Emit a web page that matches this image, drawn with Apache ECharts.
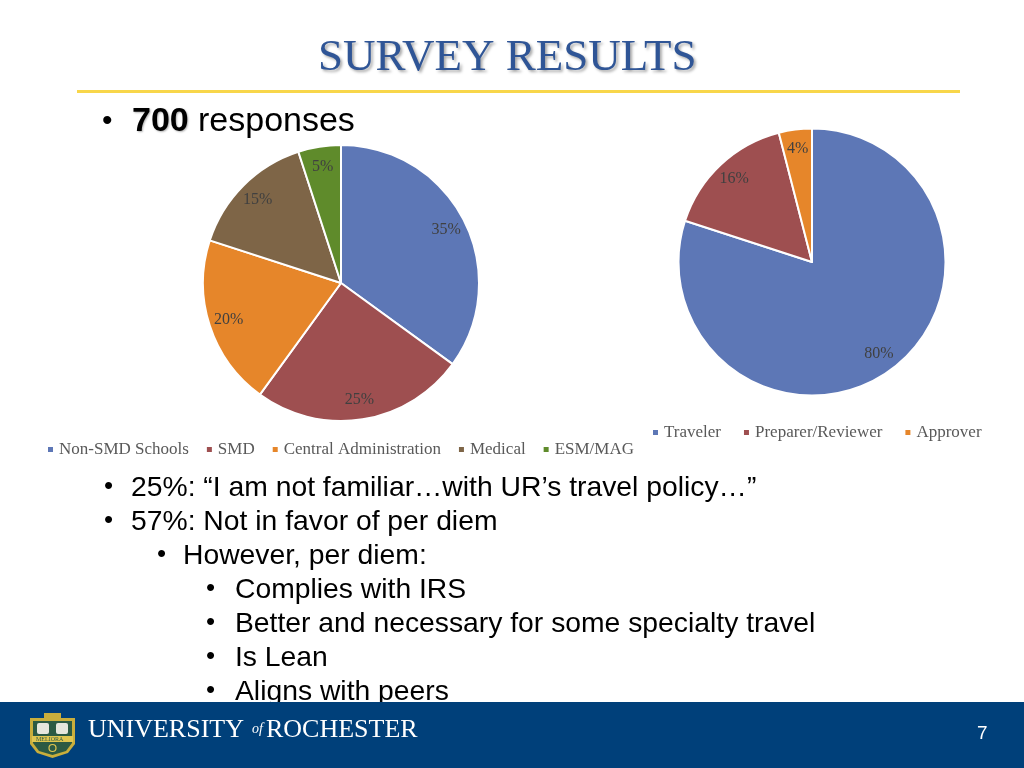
<!DOCTYPE html>
<html>
<head>
<meta charset="utf-8">
<script src="https://cdn.jsdelivr.net/npm/echarts@6/dist/echarts.min.js"></script>
<style>
html,body{margin:0;padding:0;background:#fff;}
#chart{width:1024px;height:768px;}
</style>
</head>
<body>
<div id="chart"></div>
<script>
// ---- data ----
const unitCategories = ['Non-SMD Schools', 'SMD', 'Central Administration', 'Medical', 'ESM/MAG'];
const unitValues = [35, 25, 20, 15, 5];
const roleCategories = ['Traveler', 'Preparer/Reviewer', 'Approver'];
const roleValues = [80, 16, 4];
const titleText = 'SURVEY RESULTS';
const bullets = [
  { level: 1, text: '25%: \u201cI am not familiar\u2026with UR\u2019s travel policy\u2026\u201d' },
  { level: 1, text: '57%: Not in favor of per diem' },
  { level: 2, text: 'However, per diem:' },
  { level: 3, text: 'Complies with IRS' },
  { level: 3, text: 'Better and necessary for some specialty travel' },
  { level: 3, text: 'Is Lean' },
  { level: 3, text: 'Aligns with peers' }
];
const pageNumber = '7';

// ---- styles ----
const unitColors = ['#5D77B6', '#9E4F50', '#E6862A', '#7E6547', '#5F8B2B'];
const roleColors = ['#5D77B6', '#9E4F50', '#E6862A'];
const serif = 'Liberation Serif';
const sans = 'Liberation Sans';

function pieData(names, vals, colors) {
  return names.map((n, i) => ({ name: n, value: vals[i], itemStyle: { color: colors[i] } }));
}
function labelData(names, vals) {
  return names.map((n, i) => ({ name: n, value: vals[i] }));
}

const chart = echarts.init(document.getElementById('chart'), null, { renderer: 'canvas' });

const levelX = { 1: [104, 131], 2: [157, 183], 3: [206, 235] };
const bulletY0 = 487, bulletStep = 34;
const bulletGraphics = [];
bullets.forEach((b, i) => {
  const y = bulletY0 + i * bulletStep;
  bulletGraphics.push({
    type: 'text', left: levelX[b.level][0], top: y - 13,
    style: { text: '\u2022', font: '26px ' + sans, fill: '#000' }
  });
  bulletGraphics.push({
    type: 'text', left: levelX[b.level][1], top: y - 13,
    style: { text: b.text, font: '28.3px ' + sans, fill: '#000' }
  });
});

const labelStyle = {
  show: true, position: 'inside', formatter: '{c}%',
  fontFamily: serif, fontSize: 16, color: '#404040'
};

const gold = '#C9AE3C';
const option = {
  backgroundColor: '#fff',
  animation: false,
  legend: [
    {
      data: unitCategories, left: 46, top: 441, orient: 'horizontal', padding: 0,
      itemWidth: 7, itemHeight: 7, itemGap: 16, icon: 'rect',
      textStyle: { fontFamily: serif, fontSize: 17, color: '#595959' },
      selectedMode: false
    },
    {
      data: roleCategories, left: 651, top: 424, orient: 'horizontal', padding: 0,
      itemWidth: 7, itemHeight: 7, itemGap: 21, icon: 'rect',
      textStyle: { fontFamily: serif, fontSize: 17, color: '#595959' },
      selectedMode: false
    }
  ],
  series: [
    {
      type: 'pie', center: [341, 283], radius: [0, 138], startAngle: 90, clockwise: true,
      data: pieData(unitCategories, unitValues, unitColors),
      itemStyle: { borderColor: '#fff', borderWidth: 2 },
      label: { show: false }, labelLine: { show: false },
      emphasis: { disabled: true }, silent: true
    },
    {
      type: 'pie', center: [341, 283], radius: [92, 138], startAngle: 90, clockwise: true,
      data: labelData(unitCategories, unitValues),
      itemStyle: { color: 'rgba(0,0,0,0)', borderWidth: 0 },
      label: labelStyle, labelLine: { show: false },
      emphasis: { disabled: true }, silent: true, z: 5
    },
    {
      type: 'pie', center: [812, 262], radius: [0, 133.5], startAngle: 90, clockwise: true,
      data: pieData(roleCategories, roleValues, roleColors),
      itemStyle: { borderColor: '#fff', borderWidth: 2 },
      label: { show: false }, labelLine: { show: false },
      emphasis: { disabled: true }, silent: true
    },
    {
      type: 'pie', center: [812, 262], radius: [88, 133.5], startAngle: 90, clockwise: true,
      data: labelData(roleCategories, roleValues),
      itemStyle: { color: 'rgba(0,0,0,0)', borderWidth: 0 },
      label: labelStyle, labelLine: { show: false },
      emphasis: { disabled: true }, silent: true, z: 5
    }
  ],
  graphic: [
    // title
    {
      type: 'text', left: 318, top: 36, z: 10,
      style: {
        text: titleText, font: '45px ' + serif, fill: '#2F5596',
        textShadowColor: 'rgba(0,0,0,0.35)', textShadowBlur: 3, textShadowOffsetX: 2, textShadowOffsetY: 2
      }
    },
    { type: 'rect', shape: { x: 77, y: 90, width: 883, height: 3 }, style: { fill: '#F8D64A' } },
    // 700 responses
    { type: 'text', left: 102, top: 107, style: { text: '\u2022', font: '30px ' + sans, fill: '#000' } },
    {
      type: 'text', left: 132, top: 105,
      style: {
        text: '700', font: 'bold 34px ' + sans, fill: '#000',
        textShadowColor: 'rgba(0,0,0,0.3)', textShadowBlur: 2, textShadowOffsetX: 1, textShadowOffsetY: 1
      }
    },
    { type: 'text', left: 198, top: 105, style: { text: 'responses', font: '34px ' + sans, fill: '#000' } },
    ...bulletGraphics,
    // footer band
    { type: 'rect', z: 20, shape: { x: 0, y: 702, width: 1024, height: 66 }, style: { fill: '#00407A' } },
    // logo shield
    { type: 'polygon', z: 21, shape: { points: [[30, 718], [75, 718], [75, 744], [68, 753], [52.5, 758], [37, 753], [30, 744]] }, style: { fill: gold } },
    { type: 'polygon', z: 22, shape: { points: [[33, 721], [72, 721], [72, 743], [66, 751], [52.5, 755], [39, 751], [33, 743]] }, style: { fill: '#2C5A43' } },
    { type: 'rect', z: 21, shape: { x: 44, y: 713, width: 17, height: 6 }, style: { fill: gold } },
    { type: 'rect', z: 23, shape: { x: 37, y: 723, width: 12, height: 11, r: 2 }, style: { fill: '#E6E6DC' } },
    { type: 'rect', z: 23, shape: { x: 56, y: 723, width: 12, height: 11, r: 2 }, style: { fill: '#E6E6DC' } },
    { type: 'rect', z: 23, shape: { x: 32, y: 736, width: 41, height: 6 }, style: { fill: '#E0C650' } },
    { type: 'text', z: 24, left: 36, top: 736, style: { text: 'MELIORA', font: '6px ' + serif, fill: '#2C5A43' } },
    { type: 'circle', z: 23, shape: { cx: 52.5, cy: 748, r: 3.5 }, style: { fill: 'none', stroke: '#E0C650', lineWidth: 1.2 } },
    // wordmark
    { type: 'text', z: 21, left: 88, top: 717, style: { text: 'UNIVERSITY', font: '26px ' + serif, fill: '#fff' } },
    { type: 'text', z: 21, left: 252, top: 722, style: { text: 'of', font: 'italic 14px ' + serif, fill: '#fff' } },
    { type: 'text', z: 21, left: 266, top: 717, style: { text: 'ROCHESTER', font: '26px ' + serif, fill: '#fff' } },
    { type: 'text', z: 21, left: 977, top: 724, style: { text: pageNumber, font: '19px ' + sans, fill: '#fff' } }
  ]
};
chart.setOption(option);
</script>
</body>
</html>
